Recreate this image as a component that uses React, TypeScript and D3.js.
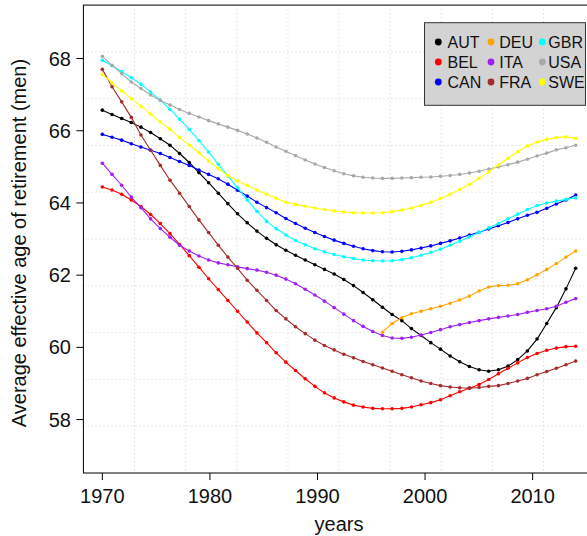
import React from "react";
import * as d3 from "d3";

// Sampling grid of the smoothed series (years)
const sampleYears = [
  1970.0, 1970.9, 1971.8, 1972.69, 1973.59, 1974.49, 1975.39, 1976.29, 1977.18, 1978.08,
  1978.98, 1979.88, 1980.78, 1981.67, 1982.57, 1983.47, 1984.37, 1985.27, 1986.16, 1987.06,
  1987.96, 1988.86, 1989.76, 1990.65, 1991.55, 1992.45, 1993.35, 1994.24, 1995.14, 1996.04,
  1996.94, 1997.84, 1998.73, 1999.63, 2000.53, 2001.43, 2002.33, 2003.22, 2004.12, 2005.02,
  2005.92, 2006.82, 2007.71, 2008.61, 2009.51, 2010.41, 2011.31, 2012.2, 2013.1, 2014.0,
];

const AUT = [
  66.57, 66.45, 66.34, 66.23, 66.1, 65.95, 65.78, 65.6, 65.37, 65.12,
  64.84, 64.56, 64.27, 63.98, 63.7, 63.45, 63.22, 63.02, 62.84, 62.69,
  62.55, 62.42, 62.29, 62.16, 62.03, 61.88, 61.71, 61.52, 61.32, 61.11,
  60.91, 60.74, 60.52, 60.33, 60.13, 59.95, 59.76, 59.6, 59.47, 59.38,
  59.34, 59.38, 59.48, 59.66, 59.9, 60.23, 60.66, 61.1, 61.62, 62.19,
];
const BEL = [
  64.44, 64.36, 64.24, 64.08, 63.9, 63.68, 63.43, 63.15, 62.85, 62.54,
  62.22, 61.9, 61.6, 61.3, 61.0, 60.7, 60.4, 60.13, 59.85, 59.59,
  59.36, 59.13, 58.92, 58.74, 58.6, 58.49, 58.4, 58.35, 58.31, 58.3,
  58.3, 58.31, 58.35, 58.41, 58.47, 58.55, 58.66, 58.77, 58.87, 58.97,
  59.11, 59.27, 59.42, 59.57, 59.72, 59.83, 59.92, 59.98, 60.02, 60.03,
];
const CAN = [
  65.9, 65.82, 65.74, 65.64, 65.55, 65.46, 65.37, 65.26, 65.15, 65.04,
  64.91, 64.79, 64.67, 64.52, 64.35, 64.19, 64.02, 63.87, 63.73, 63.57,
  63.43, 63.3, 63.18, 63.07, 62.97, 62.88, 62.8, 62.73, 62.68, 62.65,
  62.64, 62.66, 62.7, 62.75, 62.81, 62.88, 62.95, 63.03, 63.11, 63.19,
  63.28, 63.37, 63.46, 63.56, 63.66, 63.74, 63.85, 63.97, 64.08, 64.22,
];
const DEU = [
  null, null, null, null, null, null, null, null, null, null,
  null, null, null, null, null, null, null, null, null, null,
  null, null, null, null, null, null, null, null, null, 60.42,
  60.66, 60.82, 60.93, 61.0, 61.07, 61.14, 61.22, 61.31, 61.42, 61.56,
  61.67, 61.71, 61.72, 61.76, 61.87, 62.01, 62.16, 62.32, 62.5, 62.67,
];
const ITA = [
  65.1, 64.79, 64.49, 64.16, 63.87, 63.56, 63.29, 63.05, 62.83, 62.67,
  62.53, 62.42, 62.34, 62.29, 62.23, 62.18, 62.14, 62.08, 62.0, 61.89,
  61.76, 61.61, 61.45, 61.28, 61.1, 60.92, 60.74, 60.58, 60.44, 60.33,
  60.26, 60.25, 60.28, 60.34, 60.41, 60.49, 60.57, 60.63, 60.69, 60.74,
  60.79, 60.83, 60.87, 60.91, 60.97, 61.02, 61.07, 61.14, 61.25, 61.35,
];
const FRA = [
  67.7, 67.22, 66.8, 66.37, 65.88, 65.46, 65.04, 64.63, 64.27, 63.9,
  63.53, 63.18, 62.83, 62.5, 62.19, 61.86, 61.58, 61.3, 61.02, 60.79,
  60.57, 60.38, 60.2, 60.05, 59.93, 59.81, 59.71, 59.61, 59.52, 59.43,
  59.34, 59.24, 59.16, 59.07, 59.0, 58.94, 58.9, 58.88, 58.87, 58.89,
  58.92, 58.94, 59.0, 59.07, 59.14, 59.24, 59.33, 59.42, 59.52, 59.62,
];
const GBR = [
  67.95, 67.8, 67.64, 67.47, 67.29, 67.07, 66.85, 66.59, 66.32, 66.04,
  65.73, 65.41, 65.07, 64.75, 64.42, 64.08, 63.77, 63.49, 63.29, 63.11,
  62.96, 62.84, 62.73, 62.65, 62.57, 62.51, 62.46, 62.42, 62.4, 62.39,
  62.4, 62.43, 62.48, 62.55, 62.63, 62.72, 62.83, 62.94, 63.06, 63.18,
  63.31, 63.43, 63.56, 63.69, 63.82, 63.93, 64.0, 64.05, 64.1, 64.14,
];
const USA = [
  68.06, 67.81, 67.58, 67.35, 67.17, 66.99, 66.84, 66.71, 66.59, 66.48,
  66.38, 66.28, 66.19, 66.1, 66.01, 65.91, 65.8, 65.68, 65.55, 65.43,
  65.31, 65.19, 65.08, 64.98, 64.89, 64.81, 64.75, 64.71, 64.69, 64.68,
  64.68, 64.69, 64.7, 64.71, 64.72, 64.74, 64.76, 64.79, 64.83, 64.88,
  64.94, 65.0, 65.06, 65.13, 65.21, 65.3, 65.38, 65.47, 65.53, 65.6,
];
const SWE = [
  67.56, 67.33, 67.1, 66.89, 66.68, 66.46, 66.24, 66.04, 65.81, 65.6,
  65.39, 65.16, 64.95, 64.76, 64.61, 64.49, 64.36, 64.24, 64.13, 64.02,
  63.96, 63.91, 63.86, 63.82, 63.78, 63.75, 63.73, 63.72, 63.72, 63.73,
  63.76, 63.8, 63.86, 63.93, 64.02, 64.12, 64.24, 64.37, 64.51, 64.68,
  64.86, 65.05, 65.24, 65.42, 65.58, 65.69, 65.76, 65.81, 65.83, 65.79,
];

const countries = ["AUT", "BEL", "CAN", "DEU", "ITA", "FRA", "GBR", "USA", "SWE"];
const seriesValues: (number | null)[][] = [AUT, BEL, CAN, DEU, ITA, FRA, GBR, USA, SWE];
const seriesColors = [
  "#000000", "#FF0000", "#0000FF", "#FFA500", "#A020F0",
  "#A52A2A", "#00FFFF", "#A9A9A9", "#FFFF00",
];

const xTicks = [1970, 1980, 1990, 2000, 2010];
const yTicks = [58, 60, 62, 64, 66, 68];
const xLimits = [1970, 2014];
const yLimits = [57, 69];

const W = 587;
const H = 536;
const FONT = "'Liberation Sans', Arial, Helvetica, sans-serif";

// R-style 4% axis padding
const pad = (lim: number[]) => {
  const r = lim[1] - lim[0];
  return [lim[0] - 0.04 * r, lim[1] + 0.04 * r];
};

export default function App() {
  const plot = { left: 83.4, right: 594.6, top: 5.1, bottom: 473 };
  const x = d3.scaleLinear().domain(pad(xLimits)).range([plot.left, plot.right]);
  const y = d3.scaleLinear().domain(pad(yLimits)).range([plot.bottom, plot.top]);

  const [xd0, xd1] = x.domain();
  const [yd0, yd1] = y.domain();
  const gridX = d3.range(1, 10).map((k) => xd0 + (k * (xd1 - xd0)) / 10);
  const gridY = d3.range(1, 10).map((k) => yd0 + (k * (yd1 - yd0)) / 10);

  const line = d3
    .line<[number, number | null]>()
    .defined((d) => d[1] !== null)
    .x((d) => x(d[0]))
    .y((d) => y(d[1] as number));

  const legendCols = [
    { dot: 438.3, text: 447.5 },
    { dot: 491, text: 499.2 },
    { dot: 542.3, text: 548.3 },
  ];
  const legendRows = [42, 62, 82];

  return (
    <svg
      width={W}
      height={H}
      style={{ position: "absolute", left: 0, top: 0, background: "#fff" }}
      fontFamily={FONT}
    >
      <defs>
        <clipPath id="plot-area">
          <rect x={plot.left} y={plot.top} width={plot.right - plot.left} height={plot.bottom - plot.top} />
        </clipPath>
      </defs>

      {/* dotted grid */}
      <g stroke="#D3D3D3" strokeWidth={1} strokeDasharray="1,3">
        {gridX.map((g, i) => (
          <line key={"gx" + i} x1={x(g)} x2={x(g)} y1={plot.top} y2={plot.bottom} />
        ))}
        {gridY.map((g, i) => (
          <line key={"gy" + i} x1={plot.left} x2={plot.right} y1={y(g)} y2={y(g)} />
        ))}
      </g>

      {/* series */}
      <g clipPath="url(#plot-area)">
        {seriesValues.map((vals, si) => {
          const pts = sampleYears.map((yr, i) => [yr, vals[i]] as [number, number | null]);
          return (
            <g key={countries[si]}>
              <path d={line(pts) || ""} fill="none" stroke={seriesColors[si]} strokeWidth={1.1} />
              {pts
                .filter((p) => p[1] !== null)
                .map((p, i) => (
                  <circle key={i} cx={x(p[0])} cy={y(p[1] as number)} r={1.8} fill={seriesColors[si]} />
                ))}
            </g>
          );
        })}
      </g>

      {/* frame */}
      <rect
        x={plot.left}
        y={plot.top}
        width={plot.right - plot.left}
        height={plot.bottom - plot.top}
        fill="none"
        stroke="#000"
        strokeWidth={1}
      />

      {/* x axis */}
      <g>
        {xTicks.map((t) => (
          <g key={t}>
            <line x1={x(t)} x2={x(t)} y1={plot.bottom} y2={plot.bottom + 7} stroke="#000" />
            <text x={x(t)} y={503} fontSize={20} textAnchor="middle" fill="#111">
              {t}
            </text>
          </g>
        ))}
        <text x={(plot.left + plot.right) / 2} y={531} fontSize={20} textAnchor="middle" fill="#111">
          years
        </text>
      </g>

      {/* y axis */}
      <g>
        {yTicks.map((t) => (
          <g key={t}>
            <line x1={plot.left - 7} x2={plot.left} y1={y(t)} y2={y(t)} stroke="#000" />
            <text x={71} y={y(t)} dy="0.35em" fontSize={20} textAnchor="end" fill="#111">
              {t}
            </text>
          </g>
        ))}
        <text
          transform={`translate(26,${(plot.top + plot.bottom) / 2 + 4}) rotate(-90)`}
          fontSize={20}
          textAnchor="middle"
          fill="#111"
        >
          Average effective age of retirement (men)
        </text>
      </g>

      {/* legend */}
      <g>
        <rect x={424.5} y={22.7} width={161} height={82.6} fill="#D3D3D3" stroke="#333" strokeWidth={1} />
        {countries.map((c, i) => {
          const col = legendCols[Math.floor(i / 3)];
          const row = legendRows[i % 3];
          return (
            <g key={c}>
              <circle cx={col.dot} cy={row} r={3.4} fill={seriesColors[i]} />
              <text x={col.text} y={row} dy="0.36em" fontSize={16} fill="#111">
                {c}
              </text>
            </g>
          );
        })}
      </g>
    </svg>
  );
}
